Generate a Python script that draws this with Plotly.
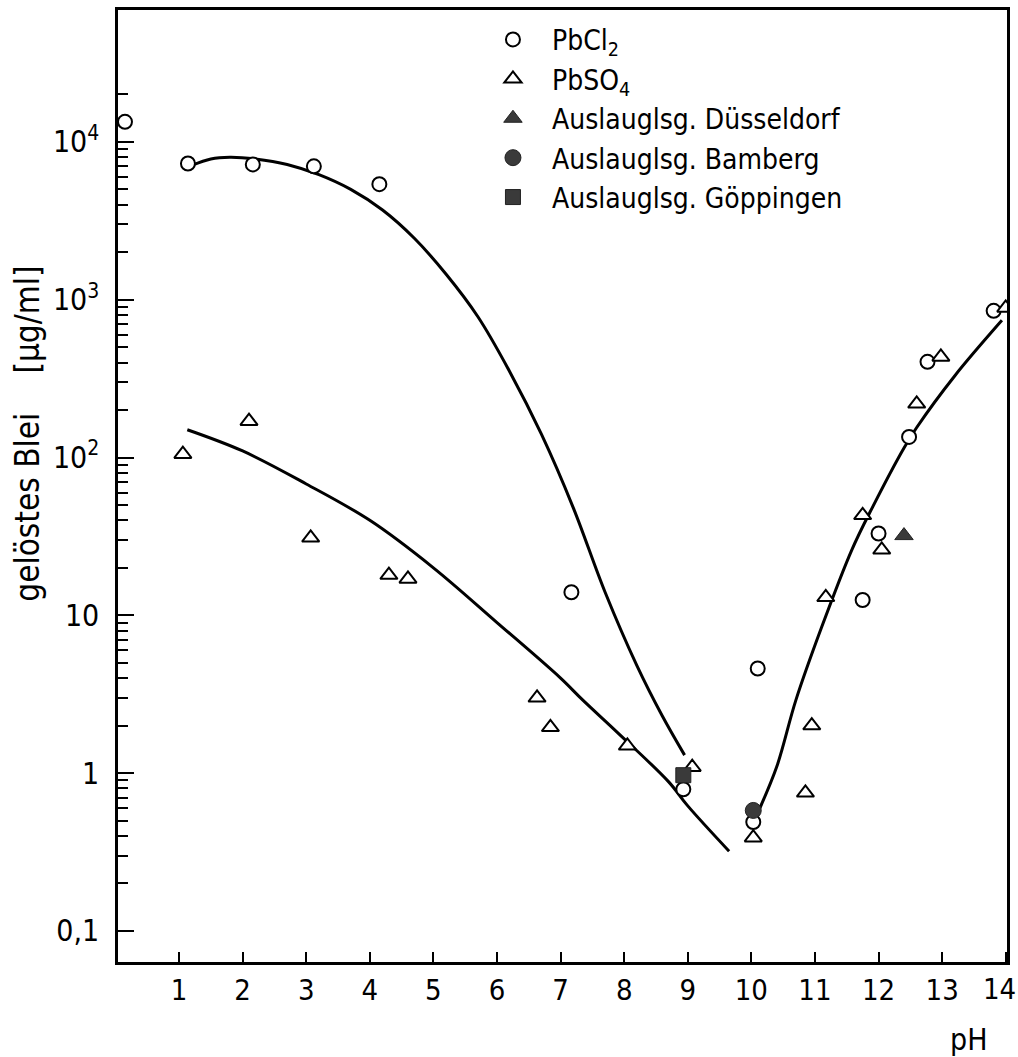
import numpy as np
import plotly.graph_objects as go

# ---------------- data ----------------
pbcl2_ph  = [0.15, 1.14, 2.16, 3.12, 4.15, 7.17, 8.93, 10.03, 10.1, 11.75, 12.0, 12.48, 12.77, 13.81]
pbcl2_val = [13400, 7300, 7200, 7000, 5400, 14, 0.79, 0.49, 4.6, 12.5, 33, 135, 404, 850]

pbso4_ph  = [1.06, 2.1, 3.07, 4.3, 4.6, 6.63, 6.84, 8.05, 9.07, 10.03, 10.85, 10.95, 11.17, 11.75, 12.05, 12.6, 12.98, 14.0]
pbso4_val = [105, 170, 31, 18, 17, 3.0, 1.95, 1.49, 1.09, 0.39, 0.75, 2.0, 13, 43, 26, 219, 434, 887]

duss_ph, duss_val = [12.4], [32]
bamb_ph, bamb_val = [10.03], [0.58]
goep_ph, goep_val = [8.93], [0.97]

# fitted curves
curve_cl_ph  = [1.2, 1.5, 1.8, 2.2, 2.7, 3.2, 3.7, 4.2, 4.7, 5.2, 5.7, 6.2, 6.7, 7.2, 7.7, 8.2, 8.6, 8.95]
curve_cl_val = [7100, 7800, 8000, 7800, 7200, 6200, 5000, 3700, 2450, 1450, 780, 350, 140, 48, 14, 4.8, 2.3, 1.3]

curve_so_ph  = [1.13, 2, 3, 4, 5, 6, 7, 7.35, 7.9, 8.7, 9.0, 9.65]
curve_so_val = [150, 110, 68, 40, 20, 9, 4.0, 2.9, 1.8, 0.88, 0.62, 0.32]

curve_r_ph  = [10.1, 10.4, 10.7, 11.1, 11.58, 11.9, 12.4, 12.6, 13.2, 13.94]
curve_r_val = [0.56, 1.1, 2.9, 8.3, 26, 48, 115, 155, 330, 740]

xtick_vals = list(range(1, 15))
xtick_text = [str(v) for v in range(1, 14)] + [""]   # "14" drawn as annotation so it is not cut at the edge
last_xtick = "14"
ytick_vals = [0.1, 1, 10, 100, 1000, 10000]
ytick_text = ["0,1", "1", "10", "10<sup>2</sup>", "10<sup>3</sup>", "10<sup>4</sup>"]
minor_vals = [m * 10.0 ** e for e in range(-1, 4) for m in range(2, 10)] + [20000]

FONT = "Liberation Sans Narrow, DejaVu Sans Condensed, Arial Narrow, sans-serif"

fig = go.Figure()

for cx, cy in [(curve_cl_ph, curve_cl_val), (curve_so_ph, curve_so_val), (curve_r_ph, curve_r_val)]:
    fig.add_trace(go.Scatter(x=cx, y=cy, mode="lines", line=dict(color="black", width=3, shape="spline"),
                             showlegend=False, hoverinfo="skip"))

fig.add_trace(go.Scatter(x=pbcl2_ph, y=pbcl2_val, mode="markers", name="PbCl<sub>2</sub>",
                         marker=dict(symbol="circle", size=14, color="white", line=dict(color="black", width=2))))
fig.add_trace(go.Scatter(x=pbso4_ph, y=pbso4_val, mode="markers", name="PbSO<sub>4</sub>",
                         marker=dict(symbol="triangle-up", size=15, color="white", line=dict(color="black", width=2))))
fig.add_trace(go.Scatter(x=duss_ph, y=duss_val, mode="markers", name="Auslauglsg. Düsseldorf",
                         marker=dict(symbol="triangle-up", size=16, color="#3a3a3a", line=dict(color="#222", width=1))))
fig.add_trace(go.Scatter(x=bamb_ph, y=bamb_val, mode="markers", name="Auslauglsg. Bamberg",
                         marker=dict(symbol="circle", size=16, color="#3a3a3a", line=dict(color="#222", width=1))))
fig.add_trace(go.Scatter(x=goep_ph, y=goep_val, mode="markers", name="Auslauglsg. Göppingen",
                         marker=dict(symbol="square", size=15, color="#3a3a3a", line=dict(color="#222", width=1))))

fig.update_layout(
    width=1018, height=1057,
    margin=dict(l=118, r=11, t=10, b=95),
    paper_bgcolor="white", plot_bgcolor="white",
    font=dict(family=FONT, size=28, color="black"),
    showlegend=True,
    legend=dict(x=0.4004, y=0.995, xanchor="left", yanchor="top", bgcolor="rgba(0,0,0,0)",
                font=dict(family=FONT, size=28, color="black"), itemwidth=68, tracegroupgap=0),
    xaxis=dict(range=[0.04, 14.02], tickvals=xtick_vals, ticktext=xtick_text, ticks="inside", ticklen=10,
               tickwidth=2, tickcolor="black", showline=True, linecolor="black", linewidth=2.5, mirror=True,
               showgrid=False, zeroline=False, tickfont=dict(size=29), ticklabelstandoff=0,
               automargin=False),
    yaxis=dict(type="log", range=[-1.197, 4.836], tickvals=ytick_vals, ticktext=ytick_text,
               ticks="inside", ticklen=16, tickwidth=2, tickcolor="black",
               minor=dict(tickvals=minor_vals, ticks="inside", ticklen=10, tickwidth=2, tickcolor="black", showgrid=False),
               showline=True, linecolor="black", linewidth=2.5, mirror=True, automargin=False,
               showgrid=False, zeroline=False, tickfont=dict(size=30), ticklabelstandoff=10),
    annotations=[
        dict(text="gelöstes Blei\u2003 [µg/ml]", xref="paper", yref="paper", x=-0.1012, y=0.555,
             textangle=-90, showarrow=False, font=dict(size=33), xanchor="center", yanchor="middle"),
        dict(text="pH", xref="paper", yref="paper", x=0.957, y=-0.0819, showarrow=False,
             font=dict(size=30), xanchor="center", yanchor="middle"),
        dict(text=last_xtick, xref="x", yref="paper", x=xtick_vals[-1], y=-0.0284, xshift=-6,
             showarrow=False, font=dict(size=29), xanchor="center", yanchor="middle"),
    ],
)

fig.write_html("out.html")
